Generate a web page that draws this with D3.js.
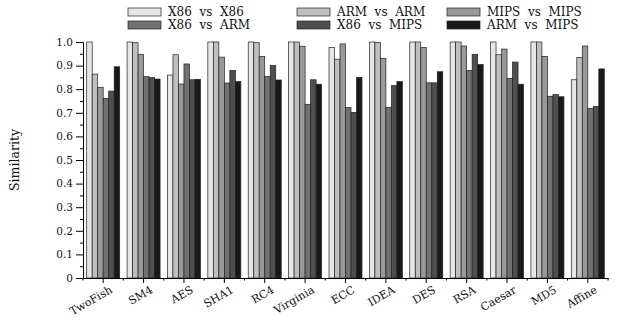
<html>
  <head>
    <meta charset="utf-8">
    <style>
      body { margin: 0; background: #fff; }
      svg text { font-family: "DejaVu Serif", serif; fill: #111; }
    </style>
    <script src="https://d3js.org/d3.v7.min.js"></script>
  </head>
  <body>
    <svg id="chart"></svg>
    <script>
      // Data
      let categories = ['TwoFish', 'SM4', 'AES', 'SHA1', 'RC4', 'Virginia', 'ECC',
                        'IDEA', 'DES', 'RSA', 'Caesar', 'MD5', 'Affine'];
      let seriesNames = ['X86  vs  X86', 'ARM  vs  ARM', 'MIPS  vs  MIPS',
                         'X86  vs  ARM', 'X86  vs  MIPS', 'ARM  vs  MIPS'];
      let x86x86   = [1.0, 1.0, 0.86, 1.0, 1.0, 1.0, 0.977, 1.0, 1.0, 1.0, 1.0, 1.0, 0.84];
      let armarm   = [0.864, 0.997, 0.946, 1.0, 0.997, 1.0, 0.927, 0.998, 1.0, 1.0, 0.946, 1.0, 0.935];
      let mipsmips = [0.808, 0.948, 0.822, 0.936, 0.939, 0.982, 0.992, 0.931, 0.977, 0.983, 0.97, 0.939, 0.983];
      let x86arm   = [0.761, 0.853, 0.907, 0.826, 0.854, 0.736, 0.722, 0.723, 0.827, 0.879, 0.846, 0.77, 0.719];
      let x86mips  = [0.792, 0.849, 0.84, 0.88, 0.9, 0.84, 0.702, 0.815, 0.827, 0.948, 0.915, 0.777, 0.727];
      let armmips  = [0.895, 0.843, 0.842, 0.832, 0.839, 0.821, 0.85, 0.832, 0.874, 0.905, 0.821, 0.768, 0.886];
      let yTicks = [0, 0.1, 0.2, 0.3, 0.4, 0.5, 0.6, 0.7, 0.8, 0.9, 1.0];

      let seriesValues = [x86x86, armarm, mipsmips, x86arm, x86mips, armmips];
      let colors = ['#e6e6e6', '#bfbfbf', '#999999', '#717171', '#4f4f4f', '#191919'];

      let width = 618, height = 324;
      let plotLeft = 83, plotRight = 608, plotTop = 42, plotBottom = 278;

      let svg = d3.select('#chart').attr('width', width).attr('height', height);

      let x0 = d3.scaleBand().domain(categories).range([plotLeft, plotRight]);
      let x1 = d3.scaleBand().domain(d3.range(seriesNames.length))
        .range([0, x0.bandwidth()]).paddingOuter(0.67);
      let y = d3.scaleLinear().domain([0, 1]).range([plotBottom, plotTop]);

      // bars
      let groups = svg.append('g').selectAll('g')
        .data(categories)
        .join('g')
        .attr('transform', d => `translate(${x0(d)},0)`);

      groups.selectAll('rect')
        .data((c, i) => seriesValues.map((vals, s) => ({ s: s, v: vals[i] })))
        .join('rect')
        .attr('x', d => x1(d.s))
        .attr('width', x1.bandwidth())
        .attr('y', d => y(d.v))
        .attr('height', d => y(0) - y(d.v))
        .attr('fill', d => colors[d.s])
        .attr('stroke', '#222')
        .attr('stroke-width', 0.7);

      // y axis, with minor ticks halfway
      let yAxis = svg.append('g')
        .attr('transform', `translate(${plotLeft},0)`)
        .call(d3.axisLeft(y).tickValues(yTicks).tickSize(7).tickPadding(3)
          .tickFormat(d => d === 0 ? '0' : d3.format('.1f')(d)));
      svg.append('g')
        .attr('transform', `translate(${plotLeft},0)`)
        .call(d3.axisLeft(y).tickValues(d3.range(0.05, 1, 0.1)).tickSize(3).tickFormat(''))
        .select('.domain').remove();

      // x axis: long ticks at group centres, short ones at the borders
      let xAxis = svg.append('g')
        .attr('transform', `translate(0,${plotBottom})`)
        .call(d3.axisBottom(x0).tickSize(5).tickSizeOuter(0).tickFormat(''));
      let borders = categories.map(c => x0(c)).concat([plotRight]);
      xAxis.selectAll('.border')
        .data(borders)
        .join('line')
        .attr('class', 'border')
        .attr('x1', d => d).attr('x2', d => d)
        .attr('y1', 0).attr('y2', 2.5)
        .attr('stroke', '#000');

      svg.selectAll('.domain, .tick line').attr('stroke', '#000');
      yAxis.selectAll('text').style('font-size', '10.5px').attr('fill', '#111');

      // rotated category labels
      svg.append('g').selectAll('text')
        .data(categories)
        .join('text')
        .attr('transform', d => `translate(${x0(d) + x0.bandwidth() / 2 + 10},${plotBottom + 14}) rotate(-30)`)
        .attr('text-anchor', 'end')
        .style('font-size', '11px')
        .text(d => d);

      // y label
      svg.append('text')
        .attr('transform', `translate(19,${(plotTop + plotBottom) / 2}) rotate(-90)`)
        .attr('text-anchor', 'middle')
        .style('font-size', '12.5px')
        .text('Similarity');

      // legend, 3 columns x 2 rows
      let legendX = [128, 297, 447];
      let legendY = [8, 21];
      let legend = svg.append('g').selectAll('g')
        .data(seriesNames)
        .join('g')
        .attr('transform', (d, i) => `translate(${legendX[i % 3]},${legendY[Math.floor(i / 3)]})`);
      legend.append('rect')
        .attr('width', 33).attr('height', 8)
        .attr('fill', (d, i) => colors[i])
        .attr('stroke', '#222').attr('stroke-width', 0.7);
      legend.append('text')
        .attr('x', 40).attr('y', 8)
        .attr('xml:space', 'preserve')
        .style('white-space', 'pre')
        .style('font-size', '12px')
        .text(d => d);
    </script>
  </body>
</html>
